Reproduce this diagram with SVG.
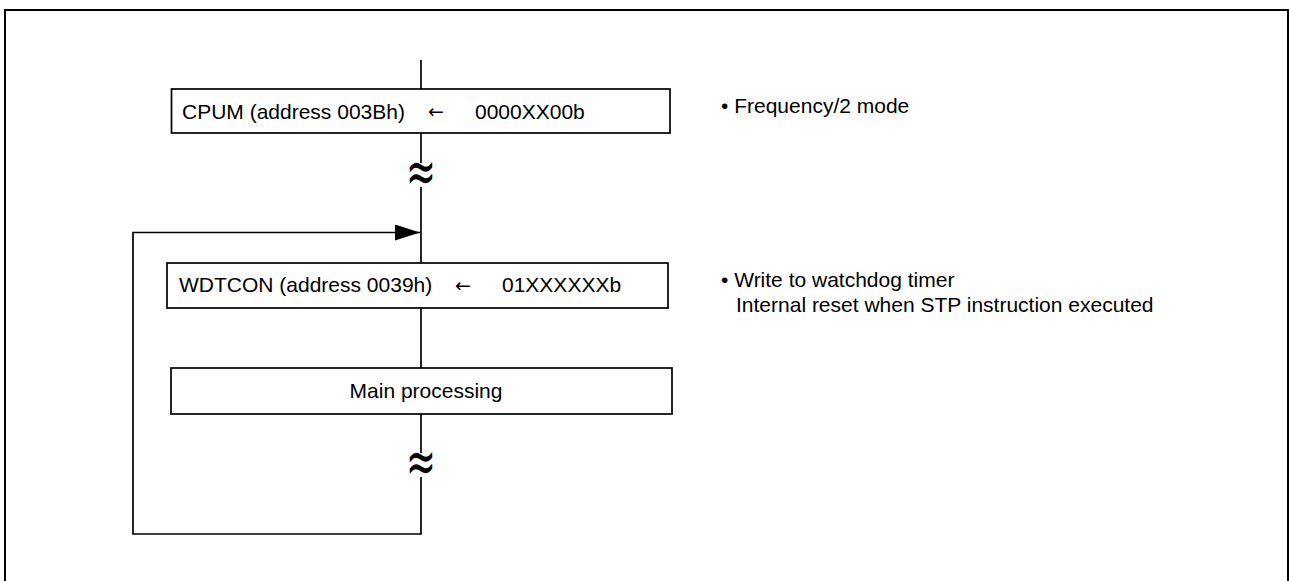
<svg xmlns="http://www.w3.org/2000/svg" width="1289" height="581" viewBox="0 0 1289 581">
  <style>
    .box { fill: #fff; stroke: #000; stroke-width: 1.7; }
    .ln { fill: none; stroke: #000; stroke-width: 1.7; }
    .t { font-family: "Liberation Sans", Arial, sans-serif; font-size: 21px; fill: #000; }
    .arr { font-family: "DejaVu Sans", sans-serif; font-size: 19px; fill: #000; }
    .brk { font-family: "DejaVu Sans", sans-serif; font-size: 42px; fill: #000; text-anchor: middle; }
  </style>
  <defs>
    <marker id="ah" markerWidth="25" markerHeight="16" refX="25" refY="8" orient="auto" markerUnits="userSpaceOnUse">
      <path d="M0,0 L25,8 L0,16 Z" fill="#000"/>
    </marker>
  </defs>
  <rect x="5" y="10" width="1283" height="620" fill="none" stroke="#000" stroke-width="2"/>

  <g id="connectors">
    <line class="ln" x1="421" y1="60" x2="421" y2="89"/>
    <line class="ln" x1="421" y1="133" x2="421" y2="163"/>
    <line class="ln" x1="421" y1="187" x2="421" y2="263"/>
    <line class="ln" x1="421" y1="308" x2="421" y2="368"/>
    <line class="ln" x1="421" y1="414" x2="421" y2="453"/>
    <polyline class="ln" points="421,477 421,534 133,534 133,232.5 420,232.5" marker-end="url(#ah)"/>
    <text class="brk" transform="translate(421,175) scale(0.85,1.45)" x="0" y="12">≈</text>
    <text class="brk" transform="translate(421,465) scale(0.85,1.45)" x="0" y="12">≈</text>
  </g>

  <g id="cpum">
    <rect class="box" x="171.5" y="89" width="498.5" height="44"/>
    <text class="t" x="182" y="118.5">CPUM (address 003Bh)</text>
    <text class="arr" x="428" y="118">←</text>
    <text class="t" x="475" y="118.5">0000XX00b</text>
  </g>

  <g id="wdtcon">
    <rect class="box" x="167" y="263" width="501" height="45"/>
    <text class="t" x="179" y="292">WDTCON (address 0039h)</text>
    <text class="arr" x="455" y="291.5">←</text>
    <text class="t" x="502" y="292">01XXXXXXb</text>
  </g>

  <g id="main">
    <rect class="box" x="171" y="368" width="501" height="46"/>
    <text class="t" x="426" y="398" text-anchor="middle">Main processing</text>
  </g>

  <g id="note-freq">
    <text class="t" x="721" y="113">• Frequency/2 mode</text>
  </g>

  <g id="note-wdt">
    <text class="t" x="721" y="287">• Write to watchdog timer</text>
    <text class="t" x="736" y="312">Internal reset when STP instruction executed</text>
  </g>
</svg>
